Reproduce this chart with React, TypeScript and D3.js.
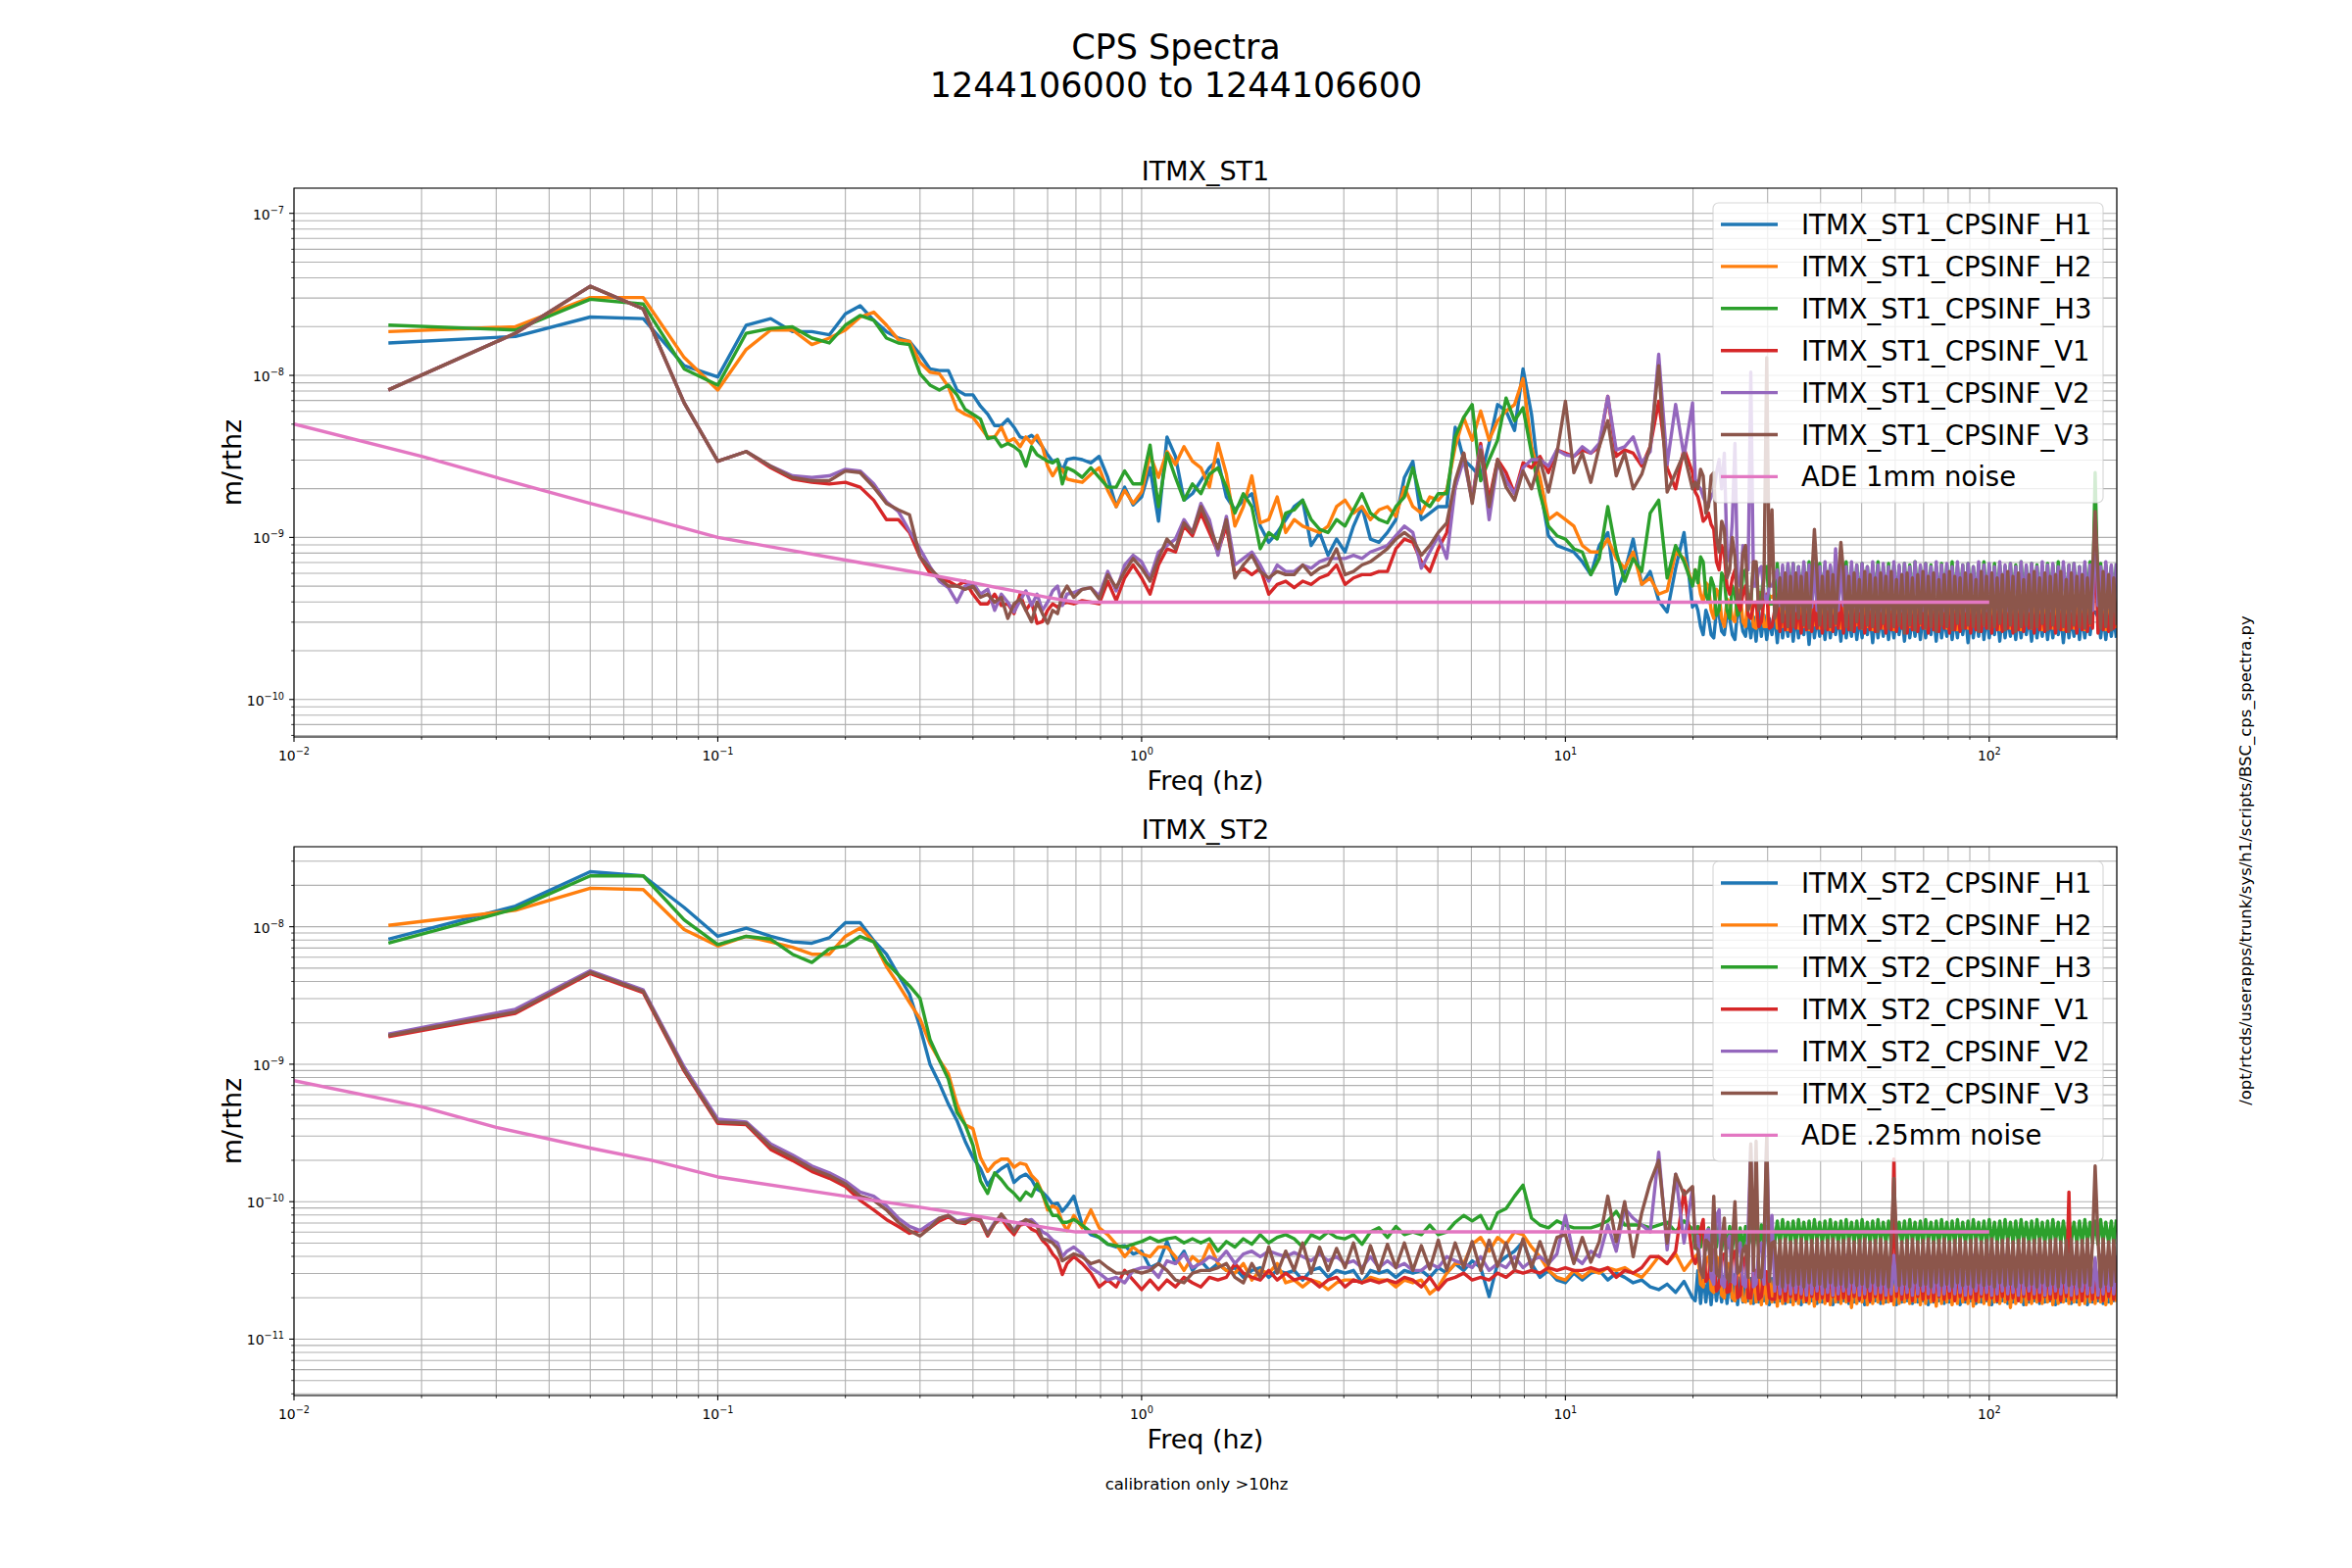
import React from 'react';
import * as d3 from 'd3';

// ---- data (amplitudes are log10 of m/rthz) ----

// FFT bins below 0.7 Hz (1/60 Hz spacing)
const fLow = [0.0167, 0.0333, 0.05, 0.0667, 0.0833, 0.1, 0.1167, 0.1333, 0.15, 0.1667,
  0.1833, 0.2, 0.2167, 0.2333, 0.25, 0.2667, 0.2833, 0.3, 0.3167, 0.3333,
  0.35, 0.3667, 0.3833, 0.4, 0.4167, 0.4333, 0.45, 0.4667, 0.4833, 0.5,
  0.5167, 0.5333, 0.55, 0.5667, 0.5833, 0.6, 0.6167, 0.6333, 0.65, 0.6667];
// 0.7 - 20 Hz
const fMid = [0.692, 0.724, 0.759, 0.794, 0.832, 0.871, 0.912, 0.955, 1.0, 1.047,
  1.096, 1.148, 1.202, 1.259, 1.318, 1.380, 1.445, 1.514, 1.585, 1.660,
  1.738, 1.820, 1.905, 1.995, 2.089, 2.188, 2.291, 2.399, 2.512, 2.630,
  2.754, 2.884, 3.020, 3.162, 3.311, 3.467, 3.631, 3.802, 3.981, 4.169,
  4.365, 4.571, 4.786, 5.012, 5.248, 5.495, 5.754, 6.026, 6.310, 6.607,
  6.918, 7.244, 7.586, 7.943, 8.318, 8.710, 9.120, 9.550, 10.0, 10.47,
  10.96, 11.48, 12.02, 12.59, 13.18, 13.80, 14.45, 15.14, 15.85, 16.60,
  17.38, 18.20, 19.05, 19.95];
// 20 - 200 Hz (dense noise floor)
const fBand = [20.25, 20.54, 20.84, 21.14, 21.45, 21.76, 22.07, 22.39, 22.72, 23.05,
  23.37, 23.71, 24.06, 24.41, 24.76, 25.12, 25.48, 25.85, 26.23, 26.61,
  26.99, 27.38, 27.78, 28.18, 28.59, 29.00, 29.42, 29.85, 30.28, 30.72,
  31.17, 31.62, 32.08, 32.54, 33.02, 33.50, 33.98, 34.47, 34.97, 35.48,
  36.00, 36.52, 37.04, 37.58, 38.13, 38.68, 39.24, 39.81, 40.38, 40.97,
  41.57, 42.17, 42.78, 43.40, 44.03, 44.67, 45.31, 45.97, 46.64, 47.32,
  48.00, 48.70, 49.40, 50.12, 50.84, 51.58, 52.33, 53.09, 53.86, 54.64,
  55.43, 56.23, 57.04, 57.87, 58.72, 59.57, 60.42, 61.30, 62.20, 63.10,
  64.01, 64.94, 65.88, 66.83, 67.81, 68.79, 69.78, 70.79, 71.82, 72.86,
  73.92, 74.99, 76.08, 77.18, 78.29, 79.43, 80.58, 81.75, 82.94, 84.14,
  85.36, 86.60, 87.86, 89.13, 90.42, 91.73, 93.06, 94.41, 95.77, 97.16,
  98.57, 100.0, 101.4, 102.9, 104.4, 105.9, 107.4, 109.0, 110.6, 112.2,
  113.8, 115.5, 117.2, 118.9, 120.6, 122.3, 124.1, 125.9, 127.7, 129.6,
  131.5, 133.4, 135.3, 137.3, 139.3, 141.3, 143.4, 145.5, 147.5, 149.6,
  152.0, 154.2, 156.2, 158.5, 161.0, 163.3, 165.7, 168.1, 170.5, 173.0,
  175.3, 177.8, 180.6, 183.2, 185.7, 188.4, 191.3, 194.1, 196.7, 199.5];
const freqs = [...fLow, ...fMid, ...fBand];

// ITMX_ST1
const st1H1 = [
  -7.80, -7.76, -7.64, -7.65, -7.94, -8.01, -7.69, -7.65, -7.73, -7.73,
  -7.75, -7.62, -7.57, -7.66, -7.73, -7.77, -7.79, -7.87, -7.96, -7.97,
  -7.97, -8.09, -8.12, -8.12, -8.19, -8.24, -8.31, -8.31, -8.27, -8.32,
  -8.38, -8.39, -8.37, -8.40, -8.44, -8.49, -8.53, -8.52, -8.59, -8.52,
  // mid
  -8.51, -8.52, -8.54, -8.50, -8.63, -8.81, -8.69, -8.80, -8.75, -8.57,
  -8.90, -8.38, -8.50, -8.77, -8.73, -8.65, -8.57, -8.52, -8.75, -8.83,
  -8.77, -8.73, -8.93, -9.03, -8.97, -8.89, -8.81, -8.77, -9.05, -8.97,
  -9.11, -9.01, -9.09, -8.93, -8.81, -9.01, -9.03, -8.97, -8.89, -8.63,
  -8.53, -8.89, -8.85, -8.81, -8.81, -8.32, -8.52, -8.57, -8.63, -8.42,
  -8.18, -8.22, -8.34, -7.96, -8.24, -8.69, -8.99, -9.05, -9.07, -9.09,
  -9.15, -9.23, -9.05, -8.97, -9.35, -9.21, -9.01, -9.29, -9.21, -9.39,
  -9.46, -9.19, -8.97, -9.43,
  // band
  -9.40, -9.45, -9.55, -9.60, -9.45, -9.50, -9.60, -9.62, -9.45, -9.48,
  -9.58, -9.60, -9.47, -9.50, -9.60, -9.63, -9.45, -9.48, -9.58, -9.61,
  -9.47, -9.62, -9.49, -9.64, -9.46, -9.61, -9.48, -9.63, -9.50, -9.60,
  -9.47, -9.65, -9.46, -9.62, -9.49, -9.61, -9.47, -9.64, -9.48, -9.62,
  -9.50, -9.60, -9.47, -9.66, -9.46, -9.62, -9.49, -9.61, -9.48, -9.63,
  -9.47, -9.62, -9.49, -9.60, -9.48, -9.64, -9.46, -9.62, -9.50, -9.61,
  -9.47, -9.63, -9.49, -9.62, -9.46, -9.60, -9.48, -9.65, -9.47, -9.62,
  -9.49, -9.61, -9.46, -9.63, -9.48, -9.62, -9.50, -9.60, -9.47, -9.64,
  -9.46, -9.62, -9.49, -9.61, -9.48, -9.63, -9.47, -9.62, -9.49, -9.60,
  -9.48, -9.64, -9.46, -9.62, -9.50, -9.61, -9.47, -9.63, -9.49, -9.62,
  -9.46, -9.60, -9.48, -9.65, -9.47, -9.62, -9.49, -9.61, -9.46, -9.63,
  -9.48, -9.62, -9.50, -9.60, -9.47, -9.64, -9.46, -9.62, -9.49, -9.61,
  -9.48, -9.63, -9.47, -9.62, -9.49, -9.60, -9.48, -9.64, -9.46, -9.62,
  -9.50, -9.61, -9.47, -9.63, -9.49, -9.62, -9.46, -9.60, -9.48, -9.65,
  -9.47, -9.62, -9.49, -9.61, -9.46, -9.63, -9.48, -9.62, -9.50, -9.60,
  -9.47, -9.46, -9.49, -9.62, -9.48, -9.63, -9.47, -9.61, -9.49, -9.62];
const st1H2 = [
  -7.73, -7.70, -7.52, -7.52, -7.89, -8.09, -7.84, -7.72, -7.72, -7.81,
  -7.77, -7.72, -7.64, -7.61, -7.69, -7.78, -7.79, -7.92, -7.98, -7.99,
  -8.07, -8.21, -8.24, -8.26, -8.32, -8.38, -8.38, -8.32, -8.41, -8.39,
  -8.44, -8.38, -8.42, -8.37, -8.44, -8.56, -8.62, -8.57, -8.58, -8.64,
  // mid
  -8.65, -8.66, -8.61, -8.57, -8.71, -8.81, -8.71, -8.79, -8.72, -8.49,
  -8.63, -8.47, -8.55, -8.44, -8.53, -8.57, -8.69, -8.42, -8.61, -8.93,
  -8.81, -8.62, -8.91, -8.89, -8.75, -8.97, -8.89, -8.93, -8.95, -8.97,
  -8.93, -8.81, -8.77, -8.85, -8.81, -8.89, -8.83, -8.81, -8.87, -8.69,
  -8.81, -8.85, -8.75, -8.77, -8.71, -8.44, -8.26, -8.40, -8.22, -8.40,
  -8.28, -8.22, -8.18, -8.02, -8.44, -8.63, -8.89, -8.85, -8.89, -8.93,
  -9.05, -9.09, -9.09, -9.01, -9.13, -9.19, -9.09, -9.29, -9.25, -9.35,
  -9.33, -9.09, -9.13, -9.29,
  // band
  -9.20, -9.25, -9.35, -9.40, -9.28, -9.30, -9.45, -9.50, -9.32, -9.35,
  -9.50, -9.55, -9.38, -9.40, -9.50, -9.52, -9.32, -9.35, -9.52, -9.55,
  -9.35, -9.36, -9.55, -9.56, -9.34, -9.34, -9.55, -9.55, -9.36, -9.37,
  -9.35, -9.56, -9.36, -9.55, -9.34, -9.57, -9.37, -9.54, -9.35, -9.56,
  -9.36, -9.55, -9.34, -9.57, -9.37, -9.54, -9.35, -9.56, -9.36, -9.55,
  -9.34, -9.57, -9.37, -9.54, -9.35, -9.56, -9.36, -9.55, -9.34, -9.57,
  -9.37, -9.54, -9.35, -9.56, -9.36, -9.55, -9.34, -9.57, -9.37, -9.54,
  -9.35, -9.56, -9.36, -9.55, -9.34, -9.57, -9.37, -9.54, -9.35, -9.56,
  -9.36, -9.55, -9.34, -9.57, -9.37, -9.54, -9.35, -9.56, -9.36, -9.55,
  -9.34, -9.57, -9.37, -9.54, -9.35, -9.56, -9.36, -9.55, -9.34, -9.57,
  -9.37, -9.54, -9.35, -9.56, -9.36, -9.55, -9.34, -9.57, -9.37, -9.54,
  -9.35, -9.56, -9.36, -9.55, -9.34, -9.57, -9.37, -9.54, -9.35, -9.56,
  -9.36, -9.55, -9.34, -9.57, -9.37, -9.54, -9.35, -9.56, -9.36, -9.55,
  -9.34, -9.57, -9.37, -9.54, -9.35, -9.56, -9.36, -9.55, -9.34, -9.57,
  -9.37, -9.54, -9.35, -9.56, -9.36, -9.55, -9.34, -9.57, -9.37, -9.54,
  -9.35, -9.30, -9.36, -9.55, -9.34, -9.57, -9.37, -9.54, -9.35, -9.56];
const st1H3 = [
  -7.69, -7.72, -7.53, -7.56, -7.96, -8.06, -7.74, -7.71, -7.70, -7.77,
  -7.80, -7.69, -7.63, -7.66, -7.77, -7.80, -7.81, -7.99, -8.06, -8.09,
  -8.06, -8.12, -8.21, -8.24, -8.27, -8.39, -8.38, -8.44, -8.42, -8.44,
  -8.47, -8.56, -8.44, -8.49, -8.51, -8.53, -8.54, -8.52, -8.67, -8.57,
  // mid
  -8.59, -8.63, -8.57, -8.63, -8.69, -8.69, -8.59, -8.67, -8.67, -8.43,
  -8.81, -8.48, -8.63, -8.77, -8.67, -8.73, -8.61, -8.57, -8.69, -8.85,
  -8.73, -8.81, -9.07, -8.97, -9.01, -8.85, -8.83, -8.77, -8.89, -8.95,
  -8.97, -8.89, -8.93, -8.83, -8.73, -8.85, -8.89, -8.91, -8.81, -8.75,
  -8.57, -8.77, -8.81, -8.73, -8.73, -8.38, -8.26, -8.18, -8.65, -8.52,
  -8.40, -8.14, -8.28, -8.20, -8.48, -8.73, -8.93, -8.99, -9.01, -9.07,
  -9.09, -9.23, -9.13, -8.81, -9.09, -9.27, -9.13, -9.21, -8.85, -8.77,
  -9.25, -9.05, -9.15, -9.30,
  // band
  -9.20, -9.28, -9.12, -9.15, -9.35, -9.40, -9.25, -9.30, -9.48, -9.45,
  -9.22, -9.25, -9.45, -9.50, -9.30, -9.35, -9.48, -9.45, -9.22, -9.20,
  -9.42, -9.40, -9.18, -9.17, -9.40, -9.38, -9.19, -9.18, -9.41, -9.41,
  -9.40, -9.16, -9.39, -9.19, -9.40, -9.17, -9.38, -9.16, -9.42, -9.18,
  -9.39, -9.17, -9.40, -9.15, -9.38, -9.18, -9.41, -9.16, -9.39, -9.17,
  -9.40, -9.18, -9.38, -9.16, -9.41, -9.17, -9.39, -9.15, -9.40, -9.18,
  -9.38, -9.17, -9.41, -9.16, -9.39, -9.18, -9.40, -9.17, -9.38, -9.15,
  -9.41, -9.18, -9.39, -9.16, -9.40, -9.17, -9.38, -9.18, -9.41, -9.16,
  -9.39, -9.17, -9.40, -9.15, -9.38, -9.18, -9.41, -9.16, -9.39, -9.17,
  -9.40, -9.18, -9.38, -9.16, -9.41, -9.17, -9.39, -9.15, -9.40, -9.18,
  -9.38, -9.17, -9.41, -9.16, -9.39, -9.18, -9.40, -9.17, -9.38, -9.15,
  -9.41, -9.18, -9.39, -9.16, -9.40, -9.17, -9.38, -9.18, -9.41, -9.16,
  -9.39, -9.17, -9.40, -9.15, -9.38, -9.18, -9.41, -9.16, -9.39, -9.17,
  -9.40, -9.18, -9.38, -9.16, -9.41, -9.17, -9.39, -9.15, -9.40, -9.18,
  -9.38, -9.17, -9.41, -9.16, -9.39, -9.18, -9.40, -9.17, -9.38, -9.15,
  -9.41, -8.60, -9.39, -9.16, -9.40, -9.17, -9.38, -9.18, -9.41, -9.16];
const st1V1 = [
  -8.09, -7.74, -7.45, -7.59, -8.17, -8.53, -8.47, -8.57, -8.64, -8.66,
  -8.67, -8.66, -8.69, -8.77, -8.89, -8.89, -8.97, -9.12, -9.22, -9.25,
  -9.27, -9.30, -9.27, -9.35, -9.41, -9.41, -9.35, -9.42, -9.41, -9.47,
  -9.35, -9.45, -9.40, -9.53, -9.52, -9.45, -9.41, -9.43, -9.41, -9.40,
  // mid
  -9.41, -9.39, -9.40, -9.41, -9.27, -9.39, -9.25, -9.17, -9.25, -9.35,
  -9.17, -9.07, -9.09, -8.93, -8.99, -8.85, -8.97, -9.09, -8.93, -9.23,
  -9.19, -9.23, -9.19, -9.35, -9.29, -9.27, -9.31, -9.27, -9.29, -9.25,
  -9.23, -9.17, -9.29, -9.25, -9.23, -9.23, -9.21, -9.21, -9.07, -9.01,
  -9.03, -9.15, -9.21, -9.07, -8.97, -8.69, -8.48, -8.77, -8.42, -8.77,
  -8.52, -8.60, -8.73, -8.54, -8.57, -8.50, -8.60, -8.46, -8.48, -8.50,
  -8.46, -8.48, -8.44, -8.13, -8.50, -8.46, -8.48, -8.56, -8.44, -8.16,
  -8.57, -8.70, -8.45, -8.60,
  // band
  -8.72, -8.75, -8.82, -8.90, -8.88, -8.85, -8.92, -8.95, -9.15, -9.20,
  -9.05, -9.10, -9.30, -9.35, -9.25, -9.20, -9.40, -9.45, -9.35, -9.30,
  -9.48, -9.50, -9.42, -9.40, -9.55, -9.52, -9.38, -9.35, -9.56, -9.55,
  -9.45, -9.40, -9.58, -9.42, -9.57, -9.43, -9.58, -9.41, -9.56, -9.42,
  -9.59, -9.43, -9.57, -9.41, -9.58, -9.42, -9.56, -9.43, -9.59, -9.41,
  -9.57, -9.42, -9.58, -9.43, -9.56, -9.41, -9.59, -9.42, -9.57, -9.43,
  -9.58, -9.41, -9.56, -9.42, -9.59, -9.43, -9.57, -9.41, -9.58, -9.42,
  -9.56, -9.43, -9.59, -9.41, -9.57, -9.42, -9.58, -9.43, -9.56, -9.41,
  -9.59, -9.42, -9.57, -9.43, -9.58, -9.41, -9.56, -9.42, -9.59, -9.43,
  -9.57, -9.41, -9.58, -9.42, -9.56, -9.43, -9.59, -9.41, -9.57, -9.42,
  -9.58, -9.43, -9.56, -9.41, -9.59, -9.42, -9.57, -9.43, -9.58, -9.41,
  -9.56, -9.42, -9.59, -9.43, -9.57, -9.41, -9.58, -9.42, -9.56, -9.43,
  -9.59, -9.41, -9.57, -9.42, -9.58, -9.43, -9.56, -9.41, -9.59, -9.42,
  -9.57, -9.43, -9.58, -9.41, -9.56, -9.42, -9.59, -9.43, -9.57, -9.41,
  -9.58, -9.42, -9.56, -9.43, -9.59, -9.41, -9.57, -9.42, -9.58, -9.43,
  -9.56, -9.00, -9.59, -9.42, -9.57, -9.43, -9.58, -9.41, -9.56, -9.42];
const st1V2 = [
  -8.09, -7.74, -7.45, -7.59, -8.17, -8.53, -8.47, -8.56, -8.62, -8.63,
  -8.62, -8.58, -8.59, -8.67, -8.78, -8.84, -8.96, -9.07, -9.18, -9.27,
  -9.31, -9.40, -9.30, -9.28, -9.35, -9.32, -9.45, -9.35, -9.40, -9.46,
  -9.39, -9.33, -9.42, -9.35, -9.45, -9.40, -9.33, -9.30, -9.42, -9.35,
  // mid
  -9.34, -9.32, -9.31, -9.36, -9.21, -9.33, -9.17, -9.11, -9.15, -9.25,
  -9.09, -9.05, -9.01, -8.89, -8.97, -8.79, -8.89, -9.11, -8.87, -9.17,
  -9.13, -9.09, -9.17, -9.27, -9.17, -9.21, -9.21, -9.17, -9.19, -9.15,
  -9.13, -9.13, -9.13, -9.11, -9.13, -9.09, -9.07, -9.05, -8.99, -8.93,
  -8.97, -9.19, -9.09, -8.99, -9.13, -8.69, -8.52, -8.77, -8.44, -8.89,
  -8.54, -8.65, -8.73, -8.57, -8.52, -8.52, -8.56, -8.46, -8.49, -8.50,
  -8.44, -8.48, -8.42, -8.13, -8.46, -8.44, -8.38, -8.54, -8.47, -7.87,
  -8.55, -8.18, -8.50, -8.17,
  // band
  -8.64, -8.68, -8.70, -8.75, -8.79, -8.79, -8.75, -8.72, -8.60, -8.52,
  -8.70, -8.48, -9.10, -9.15, -8.90, -8.42, -9.25, -9.30, -9.05, -9.10,
  -9.20, -7.98, -9.30, -9.30, -9.20, -9.18, -9.35, -9.40, -9.30, -9.30,
  -9.25, -9.20, -9.42, -9.17, -9.44, -9.16, -9.43, -9.16, -9.45, -9.18,
  -9.42, -9.15, -9.44, -9.17, -9.43, -9.16, -9.45, -9.18, -9.42, -9.15,
  -9.44, -9.17, -9.43, -9.07, -9.45, -9.16, -9.42, -9.18, -9.44, -9.15,
  -9.43, -9.17, -9.45, -9.16, -9.42, -9.18, -9.44, -9.15, -9.43, -9.17,
  -9.45, -9.16, -9.42, -9.18, -9.44, -9.15, -9.43, -9.17, -9.45, -9.16,
  -9.42, -9.18, -9.44, -9.15, -9.43, -9.17, -9.45, -9.16, -9.42, -9.18,
  -9.44, -9.15, -9.43, -9.17, -9.45, -9.16, -9.42, -9.18, -9.44, -9.15,
  -9.43, -9.17, -9.45, -9.16, -9.42, -9.18, -9.44, -9.15, -9.43, -9.17,
  -9.45, -9.16, -9.42, -9.18, -9.44, -9.15, -9.43, -9.17, -9.45, -9.16,
  -9.42, -9.18, -9.44, -9.15, -9.43, -9.17, -9.45, -9.16, -9.42, -9.18,
  -9.44, -9.15, -9.43, -9.17, -9.45, -9.16, -9.42, -9.18, -9.44, -9.15,
  -9.43, -9.17, -9.45, -9.16, -9.42, -9.18, -9.44, -9.15, -9.43, -9.17,
  -9.45, -8.90, -9.42, -9.18, -9.44, -9.15, -9.43, -9.17, -9.45, -9.16];
const st1V3 = [
  -8.09, -7.74, -7.45, -7.59, -8.17, -8.53, -8.47, -8.56, -8.63, -8.65,
  -8.65, -8.59, -8.60, -8.69, -8.79, -8.83, -8.86, -9.12, -9.19, -9.25,
  -9.30, -9.30, -9.32, -9.30, -9.37, -9.35, -9.40, -9.37, -9.50, -9.41,
  -9.38, -9.45, -9.52, -9.40, -9.47, -9.53, -9.45, -9.47, -9.35, -9.30,
  // mid
  -9.37, -9.32, -9.31, -9.38, -9.23, -9.31, -9.21, -9.13, -9.19, -9.27,
  -9.13, -9.01, -9.07, -8.91, -8.97, -8.81, -8.93, -9.07, -8.89, -9.25,
  -9.17, -9.11, -9.21, -9.25, -9.21, -9.23, -9.23, -9.17, -9.23, -9.19,
  -9.17, -9.07, -9.23, -9.21, -9.17, -9.15, -9.11, -9.07, -9.01, -8.97,
  -9.01, -9.11, -9.05, -8.97, -8.91, -8.65, -8.48, -8.79, -8.46, -8.81,
  -8.52, -8.69, -8.77, -8.59, -8.70, -8.52, -8.72, -8.48, -8.16, -8.60,
  -8.48, -8.66, -8.44, -8.28, -8.62, -8.48, -8.70, -8.61, -8.44, -7.94,
  -8.72, -8.60, -8.48, -8.70,
  // band
  -8.66, -8.70, -8.58, -8.62, -8.85, -8.81, -8.62, -8.60, -9.00, -9.09,
  -8.90, -8.95, -9.25, -9.20, -9.00, -9.12, -9.40, -9.38, -9.10, -9.05,
  -9.45, -9.40, -9.15, -9.15, -9.45, -9.42, -9.25, -7.89, -9.30, -8.83,
  -9.50, -9.42, -9.25, -9.52, -9.22, -9.55, -9.24, -9.55, -9.22, -9.50,
  -9.24, -9.54, -9.22, -9.56, -9.26, -8.95, -9.23, -9.54, -9.24, -9.56,
  -9.21, -9.55, -9.23, -9.53, -9.25, -9.03, -9.22, -9.55, -9.24, -9.57,
  -9.22, -9.52, -9.26, -9.56, -9.21, -9.54, -9.23, -9.55, -9.25, -9.58,
  -9.22, -9.53, -9.24, -9.56, -9.21, -9.55, -9.26, -9.54, -9.23, -9.59,
  -9.22, -9.54, -9.25, -9.57, -9.23, -9.53, -9.21, -9.56, -9.24, -9.55,
  -9.22, -9.58, -9.26, -9.54, -9.23, -9.55, -9.21, -9.57, -9.24, -9.53,
  -9.25, -9.56, -9.22, -9.54, -9.23, -9.55, -9.26, -9.58, -9.21, -9.54,
  -9.24, -9.56, -9.22, -9.55, -9.25, -9.53, -9.23, -9.57, -9.21, -9.54,
  -9.24, -9.58, -9.22, -9.55, -9.26, -9.54, -9.23, -9.56, -9.21, -9.55,
  -9.25, -9.53, -9.22, -9.57, -9.24, -9.54, -9.23, -9.56, -9.21, -9.55,
  -9.26, -9.58, -9.22, -9.54, -9.24, -9.55, -9.23, -9.56, -9.25, -9.53,
  -9.22, -8.84, -9.24, -9.56, -9.21, -9.55, -9.23, -9.57, -9.25, -9.54];

// ITMX_ST2
const st2H1 = [
  -8.09, -7.85, -7.60, -7.63, -7.86, -8.07, -8.01, -8.07, -8.11, -8.12,
  -8.08, -7.97, -7.97, -8.10, -8.20, -8.35, -8.49, -8.73, -9.00, -9.14,
  -9.29, -9.41, -9.56, -9.68, -9.76, -9.88, -9.80, -9.76, -9.73, -9.86,
  -9.82, -9.80, -9.84, -9.91, -9.93, -9.97, -10.02, -10.01, -10.07, -10.03,
  // mid
  -9.96, -10.17, -10.24, -10.26, -10.31, -10.33, -10.32, -10.38, -10.36, -10.48,
  -10.45, -10.29, -10.45, -10.36, -10.50, -10.43, -10.50, -10.45, -10.50, -10.48,
  -10.55, -10.50, -10.48, -10.55, -10.50, -10.52, -10.50, -10.57, -10.50, -10.48,
  -10.55, -10.50, -10.52, -10.50, -10.59, -10.50, -10.52, -10.50, -10.55, -10.50,
  -10.52, -10.50, -10.55, -10.48, -10.52, -10.45, -10.50, -10.43, -10.48, -10.69,
  -10.45, -10.40, -10.36, -10.29, -10.45, -10.55, -10.50, -10.57, -10.59, -10.52,
  -10.57, -10.52, -10.50, -10.57, -10.52, -10.55, -10.59, -10.57, -10.62, -10.64,
  -10.60, -10.66, -10.58, -10.70,
  // band
  -10.72, -10.50, -10.74, -10.52, -10.73, -10.55, -10.75, -10.54, -10.72, -10.56,
  -10.73, -10.54, -10.74, -10.56, -10.72, -10.53, -10.75, -10.55, -10.73, -10.54,
  -10.72, -10.56, -10.74, -10.53, -10.73, -10.55, -10.72, -10.54, -10.75, -10.56,
  -10.73, -10.53, -10.72, -10.55, -10.74, -10.54, -10.73, -10.56, -10.72, -10.53,
  -10.75, -10.55, -10.73, -10.54, -10.72, -10.56, -10.74, -10.53, -10.73, -10.55,
  -10.72, -10.54, -10.75, -10.56, -10.73, -10.53, -10.72, -10.55, -10.74, -10.54,
  -10.73, -10.56, -10.72, -10.53, -10.75, -10.55, -10.73, -10.54, -10.72, -10.56,
  -10.74, -10.53, -10.73, -10.55, -10.72, -10.54, -10.75, -10.56, -10.73, -10.53,
  -10.72, -10.55, -10.74, -10.54, -10.73, -10.56, -10.72, -10.53, -10.75, -10.55,
  -10.73, -10.54, -10.72, -10.56, -10.74, -10.53, -10.73, -10.55, -10.72, -10.54,
  -10.75, -10.56, -10.73, -10.53, -10.72, -10.55, -10.74, -10.54, -10.73, -10.56,
  -10.72, -10.53, -10.75, -10.55, -10.73, -10.54, -10.72, -10.56, -10.74, -10.53,
  -10.73, -10.55, -10.72, -10.54, -10.75, -10.56, -10.73, -10.53, -10.72, -10.55,
  -10.74, -10.54, -10.73, -10.56, -10.72, -10.53, -10.75, -10.55, -10.73, -10.54,
  -10.72, -10.56, -10.74, -10.53, -10.73, -10.55, -10.72, -10.54, -10.75, -10.56,
  -10.73, -10.53, -10.72, -10.55, -10.74, -10.54, -10.73, -10.56, -10.72, -10.53];
const st2H2 = [
  -7.99, -7.88, -7.72, -7.73, -8.02, -8.14, -8.07, -8.11, -8.15, -8.20,
  -8.20, -8.07, -8.01, -8.11, -8.29, -8.42, -8.55, -8.67, -8.85, -8.97,
  -9.07, -9.29, -9.44, -9.47, -9.68, -9.78, -9.72, -9.69, -9.69, -9.75,
  -9.72, -9.73, -9.81, -9.85, -9.94, -10.06, -10.03, -10.05, -10.15, -10.21,
  // mid
  -10.10, -10.19, -10.06, -10.19, -10.24, -10.31, -10.40, -10.33, -10.38, -10.40,
  -10.33, -10.33, -10.40, -10.50, -10.40, -10.45, -10.31, -10.45, -10.50, -10.52,
  -10.45, -10.57, -10.50, -10.52, -10.45, -10.59, -10.57, -10.62, -10.57, -10.59,
  -10.64, -10.59, -10.57, -10.57, -10.59, -10.55, -10.57, -10.57, -10.62, -10.57,
  -10.59, -10.57, -10.67, -10.62, -10.52, -10.45, -10.45, -10.31, -10.26, -10.36,
  -10.26, -10.31, -10.22, -10.24, -10.33, -10.40, -10.50, -10.55, -10.57, -10.50,
  -10.55, -10.50, -10.52, -10.48, -10.50, -10.48, -10.52, -10.55, -10.48, -10.40,
  -10.45, -10.38, -10.50, -10.42,
  // band
  -10.40, -10.38, -10.60, -10.62, -10.42, -10.40, -10.64, -10.66, -10.40, -10.42,
  -10.68, -10.70, -10.45, -10.45, -10.70, -10.72, -10.48, -10.50, -10.72, -10.73,
  -10.55, -10.74, -10.53, -10.73, -10.56, -10.75, -10.54, -10.74, -10.55, -10.73,
  -10.53, -10.76, -10.56, -10.74, -10.54, -10.73, -10.55, -10.75, -10.53, -10.74,
  -10.56, -10.73, -10.54, -10.74, -10.55, -10.76, -10.53, -10.73, -10.56, -10.74,
  -10.54, -10.75, -10.55, -10.73, -10.53, -10.74, -10.56, -10.73, -10.54, -10.77,
  -10.55, -10.74, -10.53, -10.73, -10.56, -10.75, -10.54, -10.74, -10.55, -10.73,
  -10.53, -10.74, -10.56, -10.73, -10.54, -10.75, -10.55, -10.74, -10.53, -10.73,
  -10.56, -10.74, -10.54, -10.73, -10.55, -10.75, -10.53, -10.74, -10.56, -10.73,
  -10.54, -10.76, -10.55, -10.74, -10.53, -10.73, -10.56, -10.75, -10.54, -10.74,
  -10.55, -10.73, -10.53, -10.74, -10.56, -10.76, -10.54, -10.73, -10.55, -10.74,
  -10.53, -10.75, -10.56, -10.73, -10.54, -10.74, -10.55, -10.73, -10.53, -10.77,
  -10.56, -10.74, -10.54, -10.73, -10.55, -10.75, -10.53, -10.74, -10.56, -10.73,
  -10.54, -10.74, -10.55, -10.73, -10.53, -10.75, -10.56, -10.74, -10.54, -10.73,
  -10.55, -10.74, -10.53, -10.73, -10.56, -10.75, -10.54, -10.74, -10.55, -10.73,
  -10.53, -10.74, -10.56, -10.73, -10.54, -10.75, -10.55, -10.74, -10.53, -10.73];
const st2H3 = [
  -8.12, -7.87, -7.63, -7.63, -7.95, -8.13, -8.07, -8.09, -8.20, -8.26,
  -8.16, -8.14, -8.07, -8.11, -8.26, -8.35, -8.43, -8.52, -8.82, -8.97,
  -9.11, -9.35, -9.44, -9.59, -9.85, -9.94, -9.79, -9.84, -9.90, -9.94,
  -9.99, -9.93, -9.96, -9.87, -9.94, -10.03, -10.10, -10.10, -10.15, -10.15,
  // mid
  -10.13, -10.17, -10.22, -10.26, -10.31, -10.32, -10.33, -10.31, -10.29, -10.26,
  -10.29, -10.27, -10.26, -10.30, -10.27, -10.30, -10.27, -10.36, -10.29, -10.33,
  -10.27, -10.31, -10.24, -10.30, -10.26, -10.24, -10.27, -10.33, -10.24, -10.27,
  -10.22, -10.26, -10.27, -10.24, -10.31, -10.22, -10.19, -10.26, -10.18, -10.24,
  -10.22, -10.24, -10.17, -10.24, -10.22, -10.15, -10.10, -10.14, -10.10, -10.22,
  -10.08, -10.05, -9.96, -9.88, -10.12, -10.17, -10.19, -10.14, -10.17, -10.19,
  -10.19, -10.19, -10.17, -10.14, -10.07, -10.17, -10.17, -10.17, -10.19, -10.17,
  -10.15, -10.22, -10.14, -10.20,
  // band
  -10.34, -10.18, -10.33, -10.17, -10.35, -10.19, -10.34, -10.18, -10.33, -10.17,
  -10.35, -10.19, -10.34, -10.18, -10.35, -10.17, -10.33, -10.19, -10.34, -10.18,
  -10.35, -10.19, -10.34, -10.18, -10.33, -10.17, -10.35, -10.18, -10.34, -10.17,
  -10.30, -10.14, -10.31, -10.13, -10.29, -10.15, -10.30, -10.14, -10.31, -10.13,
  -10.29, -10.15, -10.30, -10.14, -10.31, -10.13, -10.29, -10.15, -10.30, -10.14,
  -10.31, -10.13, -10.29, -10.15, -10.30, -10.14, -10.31, -10.13, -10.29, -10.15,
  -10.30, -10.14, -10.31, -10.13, -10.29, -10.15, -10.30, -10.14, -10.31, -10.13,
  -10.29, -10.15, -10.30, -10.14, -10.31, -10.13, -10.29, -10.15, -10.30, -10.14,
  -10.31, -10.13, -10.29, -10.15, -10.30, -10.14, -10.31, -10.13, -10.29, -10.15,
  -10.30, -10.14, -10.31, -10.13, -10.29, -10.15, -10.30, -10.14, -10.31, -10.13,
  -10.29, -10.15, -10.30, -10.14, -10.31, -10.13, -10.29, -10.15, -10.30, -10.14,
  -10.31, -10.13, -10.29, -10.15, -10.30, -10.14, -10.31, -10.13, -10.29, -10.15,
  -10.30, -10.14, -10.31, -10.13, -10.29, -10.15, -10.30, -10.14, -10.31, -10.13,
  -10.29, -10.15, -10.30, -10.14, -10.31, -10.13, -10.29, -10.15, -10.30, -10.14,
  -10.31, -10.13, -10.29, -10.15, -10.30, -10.14, -10.31, -10.13, -10.29, -10.15,
  -10.30, -10.14, -10.31, -10.13, -10.29, -10.15, -10.30, -10.14, -10.31, -10.13];
const st2V1 = [
  -8.80, -8.63, -8.34, -8.48, -9.05, -9.43, -9.44, -9.62, -9.70, -9.78,
  -9.83, -9.89, -9.99, -10.06, -10.13, -10.18, -10.23, -10.21, -10.19, -10.14,
  -10.11, -10.15, -10.16, -10.12, -10.14, -10.25, -10.16, -10.12, -10.19, -10.24,
  -10.17, -10.16, -10.20, -10.22, -10.28, -10.32, -10.38, -10.42, -10.53, -10.45,
  // mid
  -10.40, -10.45, -10.52, -10.62, -10.57, -10.62, -10.50, -10.57, -10.64, -10.57,
  -10.64, -10.57, -10.62, -10.55, -10.59, -10.62, -10.55, -10.57, -10.55, -10.45,
  -10.52, -10.55, -10.57, -10.50, -10.57, -10.52, -10.57, -10.55, -10.57, -10.62,
  -10.57, -10.55, -10.62, -10.57, -10.59, -10.57, -10.59, -10.57, -10.59, -10.55,
  -10.57, -10.62, -10.55, -10.64, -10.57, -10.55, -10.52, -10.57, -10.55, -10.57,
  -10.52, -10.55, -10.50, -10.52, -10.50, -10.52, -10.48, -10.50, -10.48, -10.50,
  -10.50, -10.48, -10.50, -10.48, -10.55, -10.50, -10.52, -10.48, -10.40, -10.40,
  -10.45, -10.36, -9.92, -10.40,
  // band
  -10.45, -10.40, -10.20, -10.13, -10.58, -10.55, -10.40, -10.35, -10.65, -10.62,
  -10.40, -10.38, -10.66, -10.65, -10.38, -10.36, -10.70, -10.68, -10.45, -10.40,
  -10.70, -10.70, -10.50, -10.50, -10.71, -10.69, -10.51, -10.51, -10.70, -10.71,
  -10.71, -10.49, -10.70, -10.50, -10.72, -10.51, -10.69, -10.49, -10.71, -10.50,
  -10.70, -10.51, -10.72, -10.49, -10.69, -10.50, -10.71, -10.51, -10.70, -10.49,
  -10.72, -10.50, -10.69, -10.51, -10.71, -10.49, -10.70, -10.50, -10.72, -10.51,
  -10.69, -10.49, -10.71, -10.50, -10.70, -10.51, -10.72, -10.49, -10.69, -10.50,
  -10.71, -10.51, -10.70, -10.49, -10.72, -9.69, -10.69, -10.50, -10.71, -10.51,
  -10.70, -10.49, -10.72, -10.50, -10.69, -10.51, -10.71, -10.49, -10.70, -10.50,
  -10.72, -10.51, -10.69, -10.49, -10.71, -10.50, -10.70, -10.51, -10.72, -10.49,
  -10.69, -10.50, -10.71, -10.51, -10.70, -10.49, -10.72, -10.50, -10.69, -10.51,
  -10.71, -10.49, -10.70, -10.50, -10.72, -10.51, -10.69, -10.49, -10.71, -10.50,
  -10.70, -10.51, -10.72, -10.49, -10.69, -10.50, -10.71, -10.51, -10.70, -10.49,
  -10.72, -10.50, -10.69, -10.51, -10.71, -10.49, -10.70, -10.50, -10.72, -10.51,
  -10.69, -9.93, -10.71, -10.50, -10.70, -10.51, -10.72, -10.49, -10.69, -10.50,
  -10.71, -10.51, -10.70, -10.49, -10.72, -10.50, -10.69, -10.51, -10.71, -10.49];
const st2V2 = [
  -8.78, -8.60, -8.32, -8.46, -9.02, -9.40, -9.42, -9.58, -9.66, -9.74,
  -9.79, -9.85, -9.93, -9.96, -10.03, -10.12, -10.18, -10.21, -10.16, -10.12,
  -10.10, -10.14, -10.13, -10.12, -10.13, -10.23, -10.15, -10.10, -10.16, -10.21,
  -10.15, -10.14, -10.13, -10.17, -10.22, -10.24, -10.28, -10.30, -10.40, -10.36,
  // mid
  -10.33, -10.38, -10.48, -10.52, -10.57, -10.55, -10.59, -10.50, -10.48, -10.48,
  -10.55, -10.43, -10.45, -10.38, -10.48, -10.45, -10.40, -10.43, -10.36, -10.45,
  -10.38, -10.36, -10.40, -10.36, -10.38, -10.40, -10.37, -10.40, -10.43, -10.38,
  -10.43, -10.40, -10.45, -10.43, -10.48, -10.40, -10.48, -10.43, -10.48, -10.45,
  -10.50, -10.50, -10.45, -10.48, -10.40, -10.43, -10.45, -10.48, -10.40, -10.50,
  -10.45, -10.48, -10.40, -10.48, -10.43, -10.40, -10.45, -10.38, -10.10, -10.40,
  -10.45, -10.36, -10.40, -10.17, -10.36, -10.05, -10.12, -10.17, -10.22, -9.64,
  -10.35, -9.80, -10.30, -9.90,
  // band
  -10.30, -10.25, -10.50, -10.55, -10.22, -10.20, -10.55, -10.60, -10.10, -10.06,
  -10.60, -10.62, -10.30, -10.25, -10.58, -10.60, -10.35, -10.30, -10.60, -10.62,
  -10.20, -9.60, -10.62, -10.60, -10.35, -10.30, -10.60, -9.52, -10.40, -10.10,
  -10.65, -10.40, -10.67, -10.41, -10.65, -10.40, -10.67, -10.41, -10.66, -10.39,
  -10.67, -10.40, -10.68, -10.41, -10.67, -10.39, -10.65, -10.40, -10.67, -10.41,
  -10.66, -10.39, -10.68, -10.40, -10.67, -10.41, -10.65, -10.39, -10.67, -10.40,
  -10.66, -10.41, -10.68, -10.39, -10.67, -10.40, -10.65, -10.41, -10.67, -10.39,
  -10.66, -10.40, -10.68, -10.41, -10.67, -10.39, -10.65, -10.40, -10.67, -10.41,
  -10.66, -10.39, -10.68, -10.40, -10.67, -10.41, -10.65, -10.39, -10.67, -10.40,
  -10.66, -10.41, -10.68, -10.39, -10.67, -10.40, -10.65, -10.41, -10.67, -10.39,
  -10.66, -10.40, -10.68, -10.41, -10.67, -10.39, -10.65, -10.40, -10.67, -10.41,
  -10.66, -10.39, -10.68, -10.40, -10.67, -10.41, -10.65, -10.39, -10.67, -10.40,
  -10.66, -10.41, -10.68, -10.39, -10.67, -10.40, -10.65, -10.41, -10.67, -10.39,
  -10.66, -10.40, -10.68, -10.41, -10.67, -10.39, -10.65, -10.40, -10.67, -10.41,
  -10.66, -10.39, -10.68, -10.40, -10.67, -10.41, -10.65, -10.39, -10.67, -10.40,
  -10.66, -10.41, -10.68, -10.39, -10.67, -10.40, -10.65, -10.41, -10.67, -10.39];
const st2V3 = [
  -8.79, -8.62, -8.33, -8.47, -9.04, -9.42, -9.43, -9.60, -9.68, -9.76,
  -9.81, -9.87, -9.96, -9.99, -10.06, -10.15, -10.21, -10.25, -10.19, -10.12,
  -10.10, -10.15, -10.15, -10.12, -10.13, -10.24, -10.16, -10.09, -10.15, -10.22,
  -10.16, -10.13, -10.15, -10.18, -10.27, -10.28, -10.30, -10.34, -10.43, -10.41,
  // mid
  -10.38, -10.40, -10.45, -10.43, -10.48, -10.52, -10.52, -10.50, -10.52, -10.50,
  -10.45, -10.50, -10.57, -10.59, -10.52, -10.50, -10.50, -10.48, -10.45, -10.55,
  -10.59, -10.45, -10.55, -10.33, -10.52, -10.36, -10.50, -10.30, -10.52, -10.33,
  -10.50, -10.34, -10.48, -10.30, -10.52, -10.32, -10.50, -10.31, -10.48, -10.30,
  -10.50, -10.32, -10.49, -10.28, -10.50, -10.30, -10.48, -10.29, -10.50, -10.28,
  -10.47, -10.30, -10.49, -10.27, -10.48, -10.29, -10.46, -10.26, -10.24, -10.45,
  -10.26, -10.44, -10.29, -9.96, -10.29, -10.00, -10.40, -10.08, -9.86, -9.70,
  -10.30, -9.80, -9.95, -9.89,
  // band
  -10.33, -10.35, -10.50, -10.55, -10.28, -10.30, -10.50, -9.96, -10.52, -10.55,
  -10.30, -10.12, -10.55, -10.58, -10.30, -10.00, -10.52, -10.50, -10.35, -10.32,
  -10.55, -9.58, -10.50, -9.56, -10.55, -10.55, -10.30, -9.53, -10.58, -10.30,
  -10.29, -10.60, -10.28, -10.62, -10.27, -10.59, -10.29, -10.61, -10.28, -10.60,
  -10.27, -10.62, -10.29, -10.59, -10.28, -10.61, -10.27, -10.60, -10.29, -10.62,
  -10.28, -10.59, -10.27, -10.61, -10.29, -10.60, -10.28, -10.62, -10.27, -10.59,
  -10.29, -10.61, -10.28, -10.60, -10.27, -10.62, -10.29, -10.59, -10.28, -10.61,
  -10.27, -10.60, -10.29, -10.62, -10.28, -9.83, -10.27, -10.61, -10.29, -10.60,
  -10.28, -10.62, -10.27, -10.59, -10.29, -10.61, -10.28, -10.60, -10.27, -10.62,
  -10.29, -10.59, -10.28, -10.61, -10.27, -10.60, -10.29, -10.62, -10.28, -10.59,
  -10.27, -10.61, -10.29, -10.60, -10.28, -10.62, -10.27, -10.59, -10.29, -10.61,
  -10.28, -10.60, -10.27, -10.62, -10.29, -10.59, -10.28, -10.61, -10.27, -10.60,
  -10.29, -10.62, -10.28, -10.59, -10.27, -10.61, -10.29, -10.60, -10.28, -10.62,
  -10.27, -10.59, -10.29, -10.61, -10.28, -10.60, -10.27, -10.62, -10.29, -10.59,
  -10.28, -10.61, -10.27, -10.60, -10.29, -10.62, -10.28, -10.59, -10.27, -10.61,
  -10.29, -9.74, -10.28, -10.62, -10.27, -10.60, -10.29, -10.61, -10.28, -10.59];

// ADE reference noise curves
const adeFreq = [0.01, 0.02, 0.03, 0.05, 0.07, 0.1, 0.2, 0.3, 0.4, 0.5, 0.6, 0.7, 100];
const adeSt1 = [-8.30, -8.50, -8.63, -8.79, -8.89, -9.00, -9.14, -9.22, -9.28, -9.33, -9.37, -9.40, -9.40];
const adeSt2 = [-9.12, -9.31, -9.46, -9.61, -9.70, -9.82, -9.96, -10.04, -10.10, -10.15, -10.19, -10.22, -10.22];

const channels = ['H1', 'H2', 'H3', 'V1', 'V2', 'V3'];
const colors = ['#1f77b4', '#ff7f0e', '#2ca02c', '#d62728', '#9467bd', '#8c564b'];
const adeColor = '#e377c2';

// ---- layout ----
const W = 2400;
const H = 1600;
const LEFT = 300;
const RIGHT = 2160;
const AX_H = 560;
const LW = 3.4;
const FONT = 'DejaVu Sans, Liberation Sans, sans-serif';

type PanelProps = {
  id: string;
  top: number;
  stage: string;
  yDomain: [number, number];
  series: number[][];
  ade: number[];
  adeLabel: string;
};

const supMinus = (e: number) => (e < 0 ? '\u2212' + -e : String(e));

function Panel({ id, top, stage, yDomain, series, ade, adeLabel }: PanelProps) {
  const bottom = top + AX_H;
  const x = d3.scaleLog().domain([0.01, 200]).range([LEFT, RIGHT]);
  const y = d3.scaleLog().domain(yDomain).range([bottom, top]);
  const isMajor = (v: number) => Math.abs(Math.log10(v) - Math.round(Math.log10(v))) < 1e-6;
  const xt = x.ticks().filter(v => v >= 0.01 && v <= 200);
  const yt = y.ticks().filter(v => v >= yDomain[0] && v <= yDomain[1]);

  const line = d3.line<[number, number]>()
    .x(d => x(d[0]))
    .y(d => y(Math.pow(10, d[1])));

  const lx = 1748;
  const ly = top + 15;

  return (
    <g>
      <defs>
        <clipPath id={id}>
          <rect x={LEFT} y={top} width={RIGHT - LEFT} height={AX_H} />
        </clipPath>
      </defs>
      {/* grid */}
      <g stroke="#b0b0b0" strokeWidth={1.1}>
        {xt.map((v, i) => (
          <line key={'gx' + i} x1={x(v)} x2={x(v)} y1={top} y2={bottom} />
        ))}
        {yt.map((v, i) => (
          <line key={'gy' + i} x1={LEFT} x2={RIGHT} y1={y(v)} y2={y(v)} />
        ))}
      </g>
      {/* data */}
      <g clipPath={`url(#${id})`} fill="none" strokeWidth={LW} strokeLinejoin="round">
        {series.map((vals, si) => (
          <path key={si} d={line(freqs.map((f, i) => [f, vals[i]]) as [number, number][]) || ''}
            stroke={colors[si]} />
        ))}
        <path d={line(adeFreq.map((f, i) => [f, ade[i]]) as [number, number][]) || ''} stroke={adeColor} />
      </g>
      {/* spines */}
      <rect x={LEFT} y={top} width={RIGHT - LEFT} height={AX_H} fill="none" stroke="#000" strokeWidth={1.1} />
      {/* ticks */}
      <g stroke="#000">
        {xt.map((v, i) => (
          <line key={'tx' + i} x1={x(v)} x2={x(v)} y1={bottom} y2={bottom + (isMajor(v) ? 4.9 : 2.8)}
            strokeWidth={isMajor(v) ? 1.1 : 0.8} />
        ))}
        {yt.map((v, i) => (
          <line key={'ty' + i} x1={LEFT} x2={LEFT - (isMajor(v) ? 4.9 : 2.8)} y1={y(v)} y2={y(v)}
            strokeWidth={isMajor(v) ? 1.1 : 0.8} />
        ))}
      </g>
      <g fontFamily={FONT} fill="#000">
        {xt.filter(isMajor).map((v, i) => (
          <text key={'lx' + i} x={x(v)} y={bottom + 24} textAnchor="middle" fontSize={13.9}>
            <tspan>10</tspan>
            <tspan dy={-6} fontSize={9.7}>{supMinus(Math.round(Math.log10(v)))}</tspan>
          </text>
        ))}
        {yt.filter(isMajor).map((v, i) => (
          <text key={'ly' + i} x={LEFT - 10} y={y(v) + 6} textAnchor="end" fontSize={13.9}>
            <tspan>10</tspan>
            <tspan dy={-6} fontSize={9.7}>{supMinus(Math.round(Math.log10(v)))}</tspan>
          </text>
        ))}
        <text x={(LEFT + RIGHT) / 2} y={top - 8} textAnchor="middle" fontSize={27}>{'ITMX_' + stage}</text>
        <text x={(LEFT + RIGHT) / 2} y={bottom + 54} textAnchor="middle" fontSize={27}>Freq (hz)</text>
        <text transform={`translate(${246},${top + AX_H / 2}) rotate(-90)`} textAnchor="middle" fontSize={27}>m/rthz</text>
      </g>
      {/* legend */}
      <rect x={lx} y={ly} width={398} height={306} rx={5.6} fill="#fff" fillOpacity={0.8}
        stroke="#cccccc" strokeOpacity={0.8} strokeWidth={1.1} />
      {[...channels.map((c, i) => ({ label: `ITMX_${stage}_CPSINF_${c}`, color: colors[i] })),
        { label: adeLabel, color: adeColor }].map((e, i) => {
        const cy = ly + 22 + i * 42.9;
        return (
          <g key={'lg' + i}>
            <line x1={lx + 8} x2={lx + 66} y1={cy} y2={cy} stroke={e.color} strokeWidth={LW} />
            <text x={lx + 90} y={cy + 10} fontFamily={FONT} fontSize={27.5} fill="#000">{e.label}</text>
          </g>
        );
      })}
    </g>
  );
}

export default function App() {
  return (
    <svg width={W} height={H} viewBox={`0 0 ${W} ${H}`}
      style={{ position: 'absolute', left: 0, top: 0, background: '#fff', display: 'block' }}>
      <rect width={W} height={H} fill="#fff" />
      <text x={1200} y={60} textAnchor="middle" fontFamily={FONT} fontSize={35}>CPS Spectra</text>
      <text x={1200} y={99} textAnchor="middle" fontFamily={FONT} fontSize={35}>1244106000 to 1244106600</text>
      <Panel id="clip1" top={192} stage="ST1" yDomain={[5.87e-11, 1.43e-7]}
        series={[st1H1, st1H2, st1H3, st1V1, st1V2, st1V3]} ade={adeSt1} adeLabel="ADE 1mm noise" />
      <Panel id="clip2" top={864} stage="ST2" yDomain={[3.89e-12, 3.82e-8]}
        series={[st2H1, st2H2, st2H3, st2V1, st2V2, st2V3]} ade={adeSt2} adeLabel="ADE .25mm noise" />
      <text x={1221} y={1520} textAnchor="middle" fontFamily={FONT} fontSize={16.5}>calibration only &gt;10hz</text>
      <text transform="translate(2297,878) rotate(-90)" textAnchor="middle" fontFamily={FONT} fontSize={16.5}>
        /opt/rtcds/userapps/trunk/sys/h1/scripts/BSC_cps_spectra.py
      </text>
    </svg>
  );
}
